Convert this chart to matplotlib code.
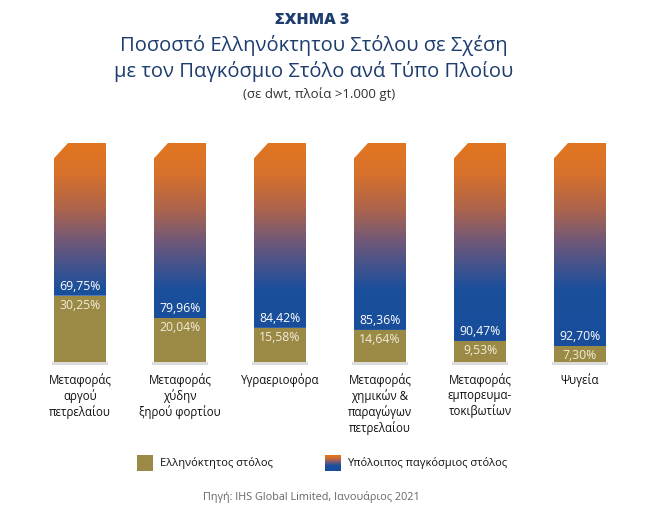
import matplotlib
matplotlib.use('Agg')
import matplotlib.pyplot as plt
import numpy as np
from matplotlib.patches import Polygon, Rectangle
from matplotlib.colors import LinearSegmentedColormap

categories = ["Μεταφοράς\nαργού\nπετρελαίου",
              "Μεταφοράς\nχύδην\nξηρού φορτίου",
              "Υγραεριοφόρα",
              "Μεταφοράς\nχημικών &\nπαραγώγων\nπετρελαίου",
              "Μεταφοράς\nεμπορευμα-\nτοκιβωτίων",
              "Ψυγεία"]
greek_share = [30.25, 20.04, 15.58, 14.64, 9.53, 7.30]
rest_share = [69.75, 79.96, 84.42, 85.36, 90.47, 92.70]

fmt = lambda v: f"{v:.2f}%".replace(".", ",")

NAVY = "#1d3d6e"
OLIVE = "#9b8a46"
grad = LinearSegmentedColormap.from_list(
    "fleet", [(0.0, "#174d9c"), (0.33, "#1a4f9b"), (0.42, "#3c5290"),
              (0.55, "#6e5878"), (0.70, "#ad644c"), (0.86, "#d7712c"),
              (1.0, "#e27620")])

plt.rcParams['font.family'] = ['Open Sans', 'DejaVu Sans']
fig = plt.figure(figsize=(6.64, 5.19), dpi=100)
fig.patch.set_facecolor('white')

# axes spans bar area: y 0 -> px 362, y 100 -> px 143
ax = fig.add_axes([0, (519 - 362) / 519, 1, 219 / 519])
ax.set_xlim(-0.8, 5.84)
ax.set_ylim(0, 100)
ax.axis('off')

w = 0.52
cut_x, cut_y = 0.14, 7.0
img = np.linspace(0, 1, 256).reshape(-1, 1)

for i, (g, r) in enumerate(zip(greek_share, rest_share)):
    x0, x1 = i - w / 2, i + w / 2
    # shadow
    ax.add_patch(Rectangle((x0 - 0.02, -1.2), w + 0.04, 1.2, color='#dcdcdc',
                           lw=0, clip_on=False, zorder=1))
    im = ax.imshow(img, cmap=grad, origin='lower', aspect='auto',
                   extent=[x0, x1, 0, 100], zorder=2)
    poly = Polygon([(x0, g), (x1, g), (x1, 100), (x0 + cut_x, 100),
                    (x0, 100 - cut_y)], closed=True, transform=ax.transData,
                   fc='none', lw=0)
    ax.add_patch(poly)
    im.set_clip_path(poly)
    ax.add_patch(Rectangle((x0, 0), w, g, fc=OLIVE, lw=0, zorder=3))
    ax.text(i, g + 1.3, fmt(r), ha='center', va='bottom', color='white',
            fontsize=8.8, zorder=4)
    ax.text(i, g - 1.3, fmt(g), ha='center', va='top', color='#f3ecd8',
            fontsize=8.8, zorder=4)
    ax.text(i, -5.0, categories[i], ha='center', va='top', color='#111111',
            fontsize=8.3, linespacing=1.22, clip_on=False)

ax.set_xticks([])

# titles
fig.text(0.47, 1 - 20 / 519, "ΣΧΗΜΑ 3", ha='center', va='center',
         color=NAVY, fontsize=11.5, fontweight='heavy')
fig.text(0.472, 1 - 46 / 519, "Ποσοστό Ελληνόκτητου Στόλου σε Σχέση",
         ha='center', va='center', color=NAVY, fontsize=14.5)
fig.text(0.472, 1 - 71 / 519, "με τον Παγκόσμιο Στόλο ανά Τύπο Πλοίου",
         ha='center', va='center', color=NAVY, fontsize=14.5)
fig.text(0.481, 1 - 94 / 519, "(σε dwt, πλοία >1.000 gt)",
         ha='center', va='center', color='#333333', fontsize=9.5)

# legend
lax = fig.add_axes([0, 0, 1, 1], zorder=-1)
lax.axis('off')
lax.add_patch(Rectangle((137, 455), 16, 16, fc=OLIVE, lw=0))
lax.imshow(img, cmap=grad, origin='lower', aspect='auto',
           extent=[325, 341, 471, 455])
lax.set_xlim(0, 664)
lax.set_ylim(519, 0)
lax.text(160, 463, "Ελληνόκτητος στόλος", va='center', fontsize=8, color='#111111')
lax.text(347, 463, "Υπόλοιπος παγκόσμιος στόλος", va='center', fontsize=8,
         color='#111111')
lax.text(311, 497, "Πηγή: IHS Global Limited, Ιανουάριος 2021", ha='center',
         va='center', fontsize=7.8, color='#666666')

fig.savefig("out.png", dpi=100, facecolor='white')
